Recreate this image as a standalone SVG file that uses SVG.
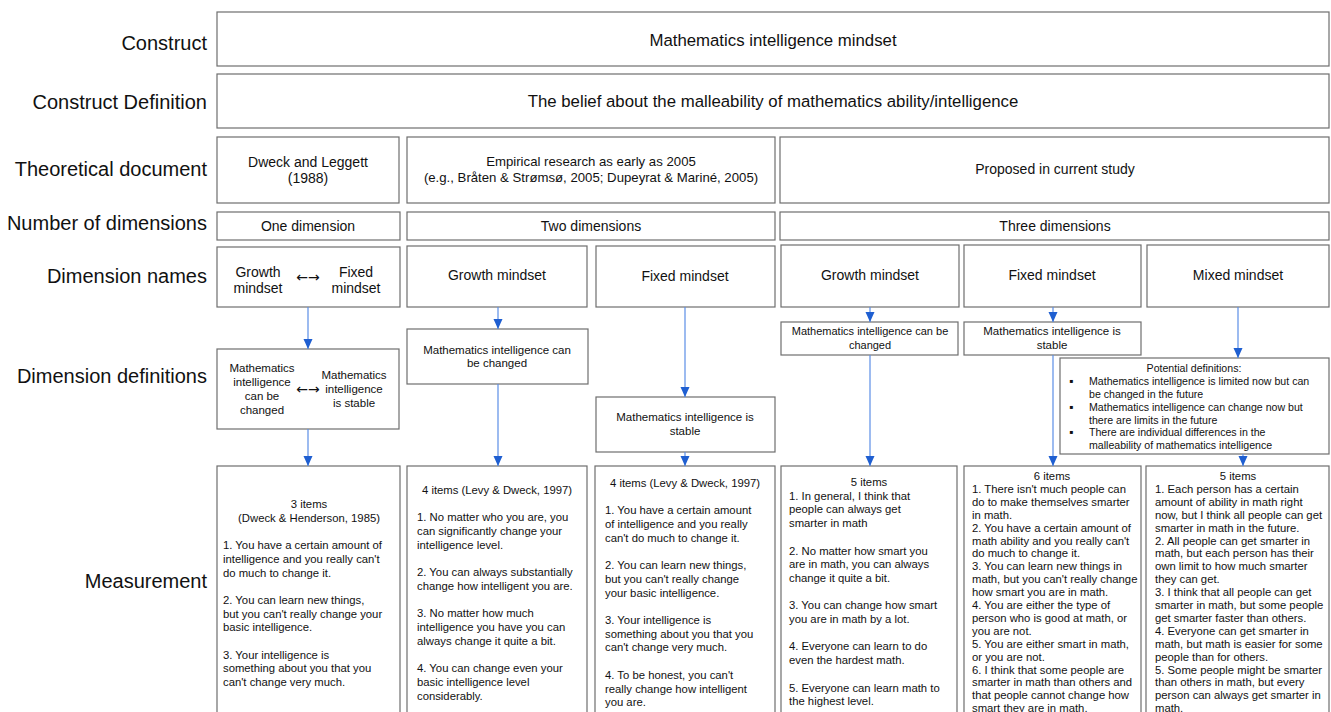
<svg xmlns="http://www.w3.org/2000/svg" width="1331" height="712" viewBox="0 0 1331 712">
<defs>
<style>
text{font-family:"Liberation Sans",Arial,Helvetica,sans-serif;fill:#111}
.lbl{font-size:20px;text-anchor:end}
.box{fill:#fff;stroke:#6e6e6e;stroke-width:1.2}
.t17{font-size:16.8px;text-anchor:middle}
.t14{font-size:14px;text-anchor:middle}
.t13{font-size:13.2px;text-anchor:middle}
.t115{font-size:11.5px;text-anchor:middle}
.t11{font-size:11px;text-anchor:middle}
.arr{font-family:"DejaVu Sans",sans-serif;font-size:14px;text-anchor:middle}
.pd{font-size:10.6px}
.bul{font-size:12px}
.m{font-size:11.3px}
.c{text-anchor:middle}
.conn line{stroke:#5b8ee6;stroke-width:1.2}
</style>
<marker id="ah" markerUnits="userSpaceOnUse" markerWidth="10" markerHeight="10" viewBox="0 0 10 10" refX="10" refY="5" orient="auto">
<path d="M0,0.5 L10,5 L0,9.5 z" fill="#1f5fd1"/>
</marker>
</defs>
<rect width="1331" height="712" fill="#fff"/>

<g id="row-labels">
<text class="lbl" x="207" y="50">Construct</text>
<text class="lbl" x="207" y="109">Construct Definition</text>
<text class="lbl" x="207" y="176">Theoretical document</text>
<text class="lbl" x="207" y="230">Number of dimensions</text>
<text class="lbl" x="207" y="283">Dimension names</text>
<text class="lbl" x="207" y="383">Dimension definitions</text>
<text class="lbl" x="207" y="588">Measurement</text>
</g>

<g id="construct">
<rect class="box" x="217" y="12" width="1112" height="54"/>
<text class="t17" x="773" y="46">Mathematics intelligence mindset</text>
</g>
<g id="construct-definition">
<rect class="box" x="217" y="74" width="1112" height="54"/>
<text class="t17" x="773" y="107">The belief about the malleability of mathematics ability/intelligence</text>
</g>

<g id="theory-1">
<rect class="box" x="217" y="137" width="182" height="66"/>
<text class="t14" x="308" y="167">Dweck and Leggett</text>
<text class="t14" x="308" y="183">(1988)</text>
</g>
<g id="theory-2">
<rect class="box" x="407" y="137" width="368" height="66"/>
<text class="t13" x="591" y="166">Empirical research as early as 2005</text>
<text class="t13" x="591" y="182">(e.g., Bråten &amp; Strømsø, 2005; Dupeyrat &amp; Mariné, 2005)</text>
</g>
<g id="theory-3">
<rect class="box" x="780" y="137" width="549" height="66"/>
<text class="t14" x="1055" y="174">Proposed in current study</text>
</g>

<g id="dims-1">
<rect class="box" x="217" y="212" width="183" height="28"/>
<text class="t14" x="308" y="231">One dimension</text>
</g>
<g id="dims-2">
<rect class="box" x="407" y="212" width="368" height="28"/>
<text class="t14" x="591" y="231">Two dimensions</text>
</g>
<g id="dims-3">
<rect class="box" x="780" y="212" width="549" height="28"/>
<text class="t14" x="1055" y="231">Three dimensions</text>
</g>

<g id="name-1">
<rect class="box" x="217" y="247" width="183" height="60"/>
<text class="t14" x="258" y="277">Growth</text>
<text class="t14" x="258" y="293">mindset</text>
<text class="arr" x="308" y="282">←→</text>
<text class="t14" x="356" y="277">Fixed</text>
<text class="t14" x="356" y="293">mindset</text>
</g>
<g id="name-2">
<rect class="box" x="407" y="246" width="180" height="61"/>
<text class="t14" x="497" y="280">Growth mindset</text>
</g>
<g id="name-3">
<rect class="box" x="596" y="246" width="179" height="61"/>
<text class="t14" x="685" y="281">Fixed mindset</text>
</g>
<g id="name-4">
<rect class="box" x="781" y="245" width="178" height="62"/>
<text class="t14" x="870" y="280">Growth mindset</text>
</g>
<g id="name-5">
<rect class="box" x="964" y="245" width="177" height="62"/>
<text class="t14" x="1052" y="280">Fixed mindset</text>
</g>
<g id="name-6">
<rect class="box" x="1147" y="245" width="182" height="62"/>
<text class="t14" x="1238" y="280">Mixed mindset</text>
</g>

<g id="def-1">
<rect class="box" x="217" y="349" width="182" height="80"/>
<text class="t115" x="262" y="372">Mathematics</text>
<text class="t115" x="262" y="386">intelligence</text>
<text class="t115" x="262" y="400">can be</text>
<text class="t115" x="262" y="414">changed</text>
<text class="arr" x="308" y="394">←→</text>
<text class="t115" x="354" y="379">Mathematics</text>
<text class="t115" x="354" y="393">intelligence</text>
<text class="t115" x="354" y="407">is stable</text>
</g>
<g id="def-2">
<rect class="box" x="407" y="329" width="181" height="55"/>
<text class="t115" x="497" y="354">Mathematics intelligence can</text>
<text class="t115" x="497" y="367">be changed</text>
</g>
<g id="def-3">
<rect class="box" x="596" y="397" width="179" height="55"/>
<text class="t115" x="685" y="421">Mathematics intelligence is</text>
<text class="t115" x="685" y="435">stable</text>
</g>
<g id="def-4">
<rect class="box" x="781" y="322" width="177" height="33"/>
<text class="t11" x="870" y="335">Mathematics intelligence can be</text>
<text class="t11" x="870" y="349">changed</text>
</g>
<g id="def-5">
<rect class="box" x="964" y="322" width="177" height="33"/>
<text class="t115" x="1052" y="335">Mathematics intelligence is</text>
<text class="t115" x="1052" y="349">stable</text>
</g>
<g id="def-6">
<rect class="box" x="1060" y="358" width="269" height="96"/>
<text class="pd c" x="1194" y="372">Potential definitions:</text>
<text class="bul" x="1069" y="385">▪</text>
<text class="pd" x="1089" y="385">Mathematics intelligence is limited now but can</text>
<text class="pd" x="1089" y="398">be changed in the future</text>
<text class="bul" x="1069" y="411">▪</text>
<text class="pd" x="1089" y="411">Mathematics intelligence can change now but</text>
<text class="pd" x="1089" y="424">there are limits in the future</text>
<text class="bul" x="1069" y="436">▪</text>
<text class="pd" x="1089" y="436">There are individual differences in the</text>
<text class="pd" x="1089" y="449">malleability of mathematics intelligence</text>
</g>

<g id="meas-1">
<rect class="box" x="217" y="466" width="183" height="260"/>
<text class="m c" x="309" y="508">3 items</text>
<text class="m c" x="309" y="521.7">(Dweck &amp; Henderson, 1985)</text>
<text class="m" x="223">
<tspan x="223" y="549.1">1. You have a certain amount of</tspan>
<tspan x="223" y="562.8">intelligence and you really can't</tspan>
<tspan x="223" y="576.5">do much to change it.</tspan>
<tspan x="223" y="603.9">2. You can learn new things,</tspan>
<tspan x="223" y="617.6">but you can't really change your</tspan>
<tspan x="223" y="631.3">basic intelligence.</tspan>
<tspan x="223" y="658.7">3. Your intelligence is</tspan>
<tspan x="223" y="672.4">something about you that you</tspan>
<tspan x="223" y="686.1">can't change very much.</tspan>
</text>
</g>
<g id="meas-2">
<rect class="box" x="407" y="466" width="180" height="260"/>
<text class="m c" x="497" y="494">4 items (Levy &amp; Dweck, 1997)</text>
<text class="m">
<tspan x="417" y="521.4">1. No matter who you are, you</tspan>
<tspan x="417" y="535.1">can significantly change your</tspan>
<tspan x="417" y="548.8">intelligence level.</tspan>
<tspan x="417" y="576.2">2. You can always substantially</tspan>
<tspan x="417" y="589.9">change how intelligent you are.</tspan>
<tspan x="417" y="617.3">3. No matter how much</tspan>
<tspan x="417" y="631">intelligence you have you can</tspan>
<tspan x="417" y="644.7">always change it quite a bit.</tspan>
<tspan x="417" y="672.1">4. You can change even your</tspan>
<tspan x="417" y="685.8">basic intelligence level</tspan>
<tspan x="417" y="699.5">considerably.</tspan>
</text>
</g>
<g id="meas-3">
<rect class="box" x="595" y="466" width="180" height="260"/>
<text class="m c" x="685" y="487">4 items (Levy &amp; Dweck, 1997)</text>
<text class="m">
<tspan x="605" y="514.4">1. You have a certain amount</tspan>
<tspan x="605" y="528.1">of intelligence and you really</tspan>
<tspan x="605" y="541.8">can't do much to change it.</tspan>
<tspan x="605" y="569.2">2. You can learn new things,</tspan>
<tspan x="605" y="582.9">but you can't really change</tspan>
<tspan x="605" y="596.6">your basic intelligence.</tspan>
<tspan x="605" y="624">3. Your intelligence is</tspan>
<tspan x="605" y="637.7">something about you that you</tspan>
<tspan x="605" y="651.4">can't change very much.</tspan>
<tspan x="605" y="678.8">4. To be honest, you can't</tspan>
<tspan x="605" y="692.5">really change how intelligent</tspan>
<tspan x="605" y="706.2">you are.</tspan>
</text>
</g>
<g id="meas-4">
<rect class="box" x="781" y="466" width="176" height="260"/>
<text class="m c" x="869" y="486">5 items</text>
<text class="m">
<tspan x="789" y="499.7">1. In general, I think that</tspan>
<tspan x="789" y="513.4">people can always get</tspan>
<tspan x="789" y="527.1">smarter in math</tspan>
<tspan x="789" y="554.5">2. No matter how smart you</tspan>
<tspan x="789" y="568.2">are in math, you can always</tspan>
<tspan x="789" y="581.9">change it quite a bit.</tspan>
<tspan x="789" y="609.3">3. You can change how smart</tspan>
<tspan x="789" y="623">you are in math by a lot.</tspan>
<tspan x="789" y="650.4">4. Everyone can learn to do</tspan>
<tspan x="789" y="664.1">even the hardest math.</tspan>
<tspan x="789" y="691.5">5. Everyone can learn math to</tspan>
<tspan x="789" y="705.2">the highest level.</tspan>
</text>
</g>
<g id="meas-5">
<rect class="box" x="964" y="466" width="177" height="260"/>
<text class="m c" x="1052" y="480">6 items</text>
<text class="m">
<tspan x="972" y="492.9">1. There isn't much people can</tspan>
<tspan x="972" y="505.8">do to make themselves smarter</tspan>
<tspan x="972" y="518.7">in math.</tspan>
<tspan x="972" y="531.6">2. You have a certain amount of</tspan>
<tspan x="972" y="544.5">math ability and you really can't</tspan>
<tspan x="972" y="557.4">do much to change it.</tspan>
<tspan x="972" y="570.3">3. You can learn new things in</tspan>
<tspan x="972" y="583.2">math, but you can't really change</tspan>
<tspan x="972" y="596.1">how smart you are in math.</tspan>
<tspan x="972" y="609">4. You are either the type of</tspan>
<tspan x="972" y="621.9">person who is good at math, or</tspan>
<tspan x="972" y="634.8">you are not.</tspan>
<tspan x="972" y="647.7">5. You are either smart in math,</tspan>
<tspan x="972" y="660.6">or you are not.</tspan>
<tspan x="972" y="673.5">6. I think that some people are</tspan>
<tspan x="972" y="686.4">smarter in math than others and</tspan>
<tspan x="972" y="699.3">that people cannot change how</tspan>
<tspan x="972" y="712.2">smart they are in math.</tspan>
</text>
</g>
<g id="meas-6">
<rect class="box" x="1146" y="466" width="183" height="260"/>
<text class="m c" x="1238" y="480">5 items</text>
<text class="m">
<tspan x="1155" y="492.9">1. Each person has a certain</tspan>
<tspan x="1155" y="505.8">amount of ability in math right</tspan>
<tspan x="1155" y="518.7">now, but I think all people can get</tspan>
<tspan x="1155" y="531.6">smarter in math in the future.</tspan>
<tspan x="1155" y="544.5">2. All people can get smarter in</tspan>
<tspan x="1155" y="557.4">math, but each person has their</tspan>
<tspan x="1155" y="570.3">own limit to how much smarter</tspan>
<tspan x="1155" y="583.2">they can get.</tspan>
<tspan x="1155" y="596.1">3. I think that all people can get</tspan>
<tspan x="1155" y="609">smarter in math, but some people</tspan>
<tspan x="1155" y="621.9">get smarter faster than others.</tspan>
<tspan x="1155" y="634.8">4. Everyone can get smarter in</tspan>
<tspan x="1155" y="647.7">math, but math is easier for some</tspan>
<tspan x="1155" y="660.6">people than for others.</tspan>
<tspan x="1155" y="673.5">5. Some people might be smarter</tspan>
<tspan x="1155" y="686.4">than others in math, but every</tspan>
<tspan x="1155" y="699.3">person can always get smarter in</tspan>
<tspan x="1155" y="712.2">math.</tspan>
</text>
</g>

<g id="connectors" class="conn">
<line x1="308" y1="307" x2="308" y2="349" marker-end="url(#ah)"/>
<line x1="308" y1="429" x2="308" y2="466" marker-end="url(#ah)"/>
<line x1="498" y1="307" x2="498" y2="329" marker-end="url(#ah)"/>
<line x1="498" y1="384" x2="498" y2="466" marker-end="url(#ah)"/>
<line x1="685" y1="307" x2="685" y2="397" marker-end="url(#ah)"/>
<line x1="685" y1="452" x2="685" y2="466" marker-end="url(#ah)"/>
<line x1="870" y1="307" x2="870" y2="322" marker-end="url(#ah)"/>
<line x1="870" y1="355" x2="870" y2="466" marker-end="url(#ah)"/>
<line x1="1053" y1="307" x2="1053" y2="322" marker-end="url(#ah)"/>
<line x1="1053" y1="355" x2="1053" y2="466" marker-end="url(#ah)"/>
<line x1="1238" y1="307" x2="1238" y2="358" marker-end="url(#ah)"/>
<line x1="1243" y1="454" x2="1243" y2="466" marker-end="url(#ah)"/>
</g>
</svg>
